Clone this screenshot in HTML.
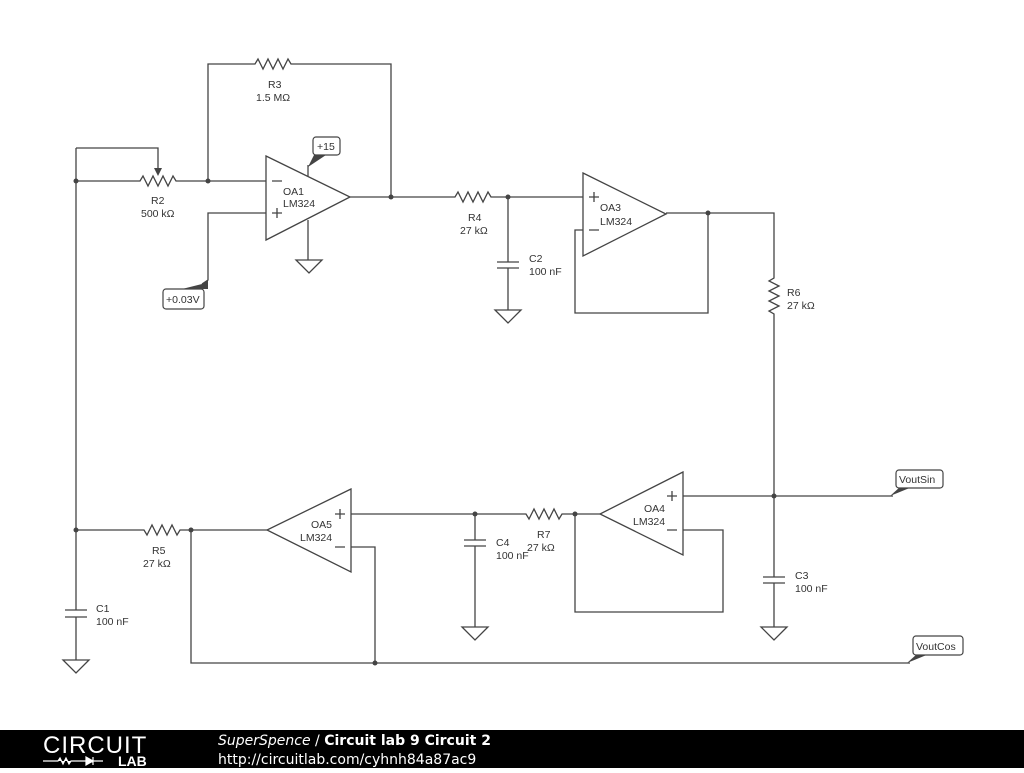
<!DOCTYPE html>
<html><head><meta charset="utf-8"><style>
body{margin:0;width:1024px;height:768px;background:#fff;overflow:hidden;font-family:"Liberation Sans",sans-serif}
svg text{font-family:"Liberation Sans",sans-serif;font-size:10.5px;fill:#333}
</style></head><body>
<svg width="1024" height="768" viewBox="0 0 1024 768" xmlns="http://www.w3.org/2000/svg">
<g stroke="#444" stroke-width="1.3" fill="none">
<path d="M76 148V610M76 617V660"/>
<path d="M76 148H158V168"/>
<path d="M76 181H140l3-5 5 10 5-10 5 10 5-10 5 10 5-10 3 5H266"/>
<path d="M208 181V64H255l3-5 5 10 5-10 5 10 5-10 5 10 5-10 3 5H391V197"/>
<path d="M266 213H208V280l-6 4"/>
<path d="M308 176V165"/><path d="M308 220V260"/>
<path d="M266 156L350 197L266 240Z"/>
<path d="M350 197H455l3-5 5 10 5-10 5 10 5-10 5 10 5-10 3 5H583"/>
<path d="M508 197V262M508 268V310"/>
<path d="M497 262H519M497 268H519"/>
<path d="M583 173L666 214L583 256Z"/>
<path d="M666 213H774V278l-5 3 10 5-10 5 10 5-10 5 10 5-10 5 5 3V577M774 583V627"/>
<path d="M583 230H575V313H708V213"/>
<path d="M763 577H785M763 583H785"/>
<path d="M683 472L600 514L683 555Z"/>
<path d="M683 496H893"/>
<path d="M683 530H723V612H575V514"/>
<path d="M600 514H562l-3 5-5-10-5 10-5-10-5 10-5-10-5 10-3-5H351"/>
<path d="M475 514V540M475 546V627M464 540H486M464 546H486"/>
<path d="M351 489L267 530L351 572Z"/>
<path d="M351 547H375V663"/>
<path d="M267 530H180l-3 5-5-10-5 10-5-10-5 10-5-10-5 10-3-5H76"/>
<path d="M191 530V663H910"/>
<path d="M65 610H87M65 617H87"/>
<path d="M296 260H322L309 273Z"/>
<path d="M495 310H521L508 323Z"/>
<path d="M761 627H787L774 640Z"/>
<path d="M462 627H488L475 640Z"/>
<path d="M63 660H89L76 673Z"/>
</g>
<path d="M154 168H162L158 176Z" fill="#444"/>
<g fill="#444">
<circle cx="76" cy="181" r="2.5"/><circle cx="208" cy="181" r="2.5"/><circle cx="391" cy="197" r="2.5"/>
<circle cx="508" cy="197" r="2.5"/><circle cx="708" cy="213" r="2.5"/><circle cx="774" cy="496" r="2.5"/>
<circle cx="575" cy="514" r="2.5"/><circle cx="475" cy="514" r="2.5"/><circle cx="191" cy="530" r="2.5"/>
<circle cx="76" cy="530" r="2.5"/><circle cx="375" cy="663" r="2.5"/>
<path d="M308 167L314 155H326Z"/><path d="M202 284L208 280V289H182Z"/>
<path d="M890 496L900 487H912Z"/><path d="M907 663L917 654H929Z"/>
</g>
<g fill="#fff" stroke="#444" stroke-width="1.2">
<rect x="313" y="137" width="27" height="18" rx="3"/>
<rect x="163" y="289" width="41" height="20" rx="3"/>
<rect x="896" y="470" width="47" height="18" rx="3"/>
<rect x="913" y="636" width="50" height="19" rx="3"/>
</g>
<g stroke="#444" stroke-width="1.3">
<path d="M272 181H282M272 213H282M277 208V218"/>
<path d="M589 197H599M594 192V202M589 230H599"/>
<path d="M667 496H677M672 491V501M667 530H677"/>
<path d="M335 514H345M340 509V519M335 547H345"/>
</g>
<text x="317" y="150">+15</text><text x="166" y="303">+0.03V</text>
<text x="899" y="483">VoutSin</text><text x="916" y="650">VoutCos</text>
<text x="268" y="88">R3</text><text x="256" y="101">1.5 MΩ</text>
<text x="151" y="204">R2</text><text x="141" y="217">500 kΩ</text>
<text x="283" y="195">OA1</text><text x="283" y="207">LM324</text>
<text x="468" y="221">R4</text><text x="460" y="234">27 kΩ</text>
<text x="529" y="262">C2</text><text x="529" y="275">100 nF</text>
<text x="600" y="211">OA3</text><text x="600" y="225">LM324</text>
<text x="787" y="296">R6</text><text x="787" y="309">27 kΩ</text>
<text x="644" y="512">OA4</text><text x="633" y="525">LM324</text>
<text x="537" y="538">R7</text><text x="527" y="551">27 kΩ</text>
<text x="496" y="546">C4</text><text x="496" y="559">100 nF</text>
<text x="795" y="579">C3</text><text x="795" y="592">100 nF</text>
<text x="311" y="528">OA5</text><text x="300" y="541">LM324</text>
<text x="152" y="554">R5</text><text x="143" y="567">27 kΩ</text>
<text x="96" y="612">C1</text><text x="96" y="625">100 nF</text>
<rect x="0" y="730" width="1024" height="38" fill="#000"/>
<text x="43" y="753" style="font-size:24px;fill:#fff;font-weight:300;letter-spacing:1px">CIRCUIT</text>
<path d="M43 761H58l2-3 3 6 3-6 3 6 2-3H103M93 757V765M86 757L93 761L86 765Z" stroke="#fff" fill="#fff" stroke-width="1.2"/>
<text x="118" y="766" style="font-size:14px;fill:#fff;font-weight:bold">LAB</text>
<text x="218" y="745" style="font-size:14px;fill:#fff;font-family:'DejaVu Sans',sans-serif"><tspan font-style="italic">SuperSpence</tspan> / <tspan font-weight="bold">Circuit lab 9 Circuit 2</tspan></text>
<text x="218" y="764" style="font-size:14px;fill:#fff;font-family:'DejaVu Sans',sans-serif">http://circuitlab.com/cyhnh84a87ac9</text>
</svg>
</body></html>
